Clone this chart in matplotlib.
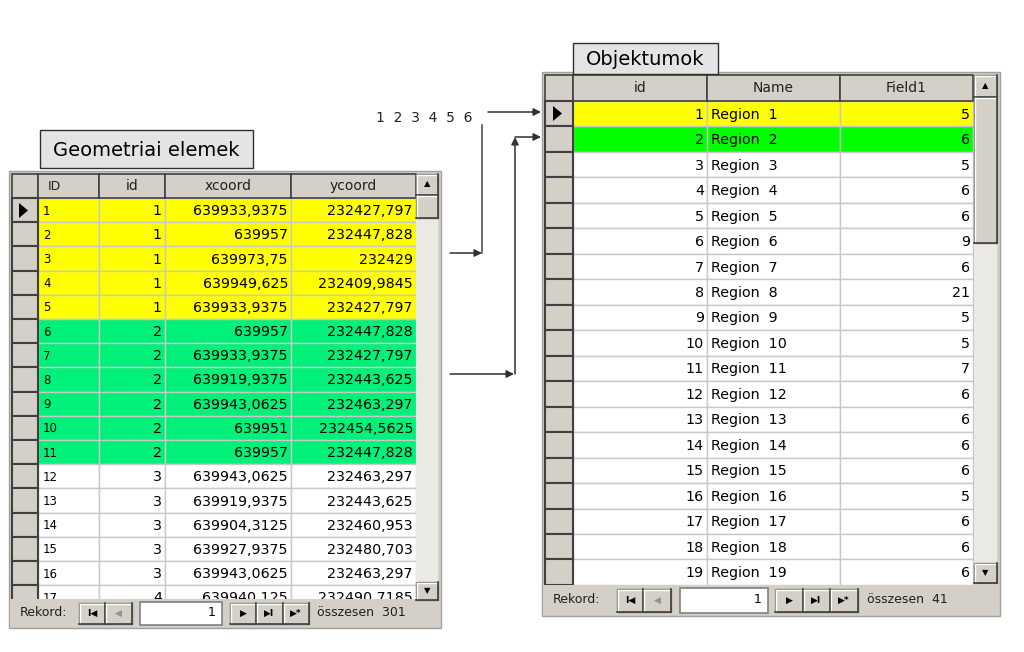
import matplotlib
matplotlib.use("Agg")
import matplotlib.pyplot as plt
from matplotlib.patches import Rectangle, Polygon

# ---- data ----
geo_title = "Geometriai elemek"
geo_headers = ["ID", "id", "xcoord", "ycoord"]
geo_ID = [1, 2, 3, 4, 5, 6, 7, 8, 9, 10, 11, 12, 13, 14, 15, 16, 17]
geo_id = [1, 1, 1, 1, 1, 2, 2, 2, 2, 2, 2, 3, 3, 3, 3, 3, 4]
geo_x = ["639933,9375", "639957", "639973,75", "639949,625", "639933,9375",
         "639957", "639933,9375", "639919,9375", "639943,0625", "639951",
         "639957", "639943,0625", "639919,9375", "639904,3125", "639927,9375",
         "639943,0625", "639940,125"]
geo_y = ["232427,797", "232447,828", "232429", "232409,9845", "232427,797",
         "232447,828", "232427,797", "232443,625", "232463,297", "232454,5625",
         "232447,828", "232463,297", "232443,625", "232460,953", "232480,703",
         "232463,297", "232490,7185"]
geo_total = 301

obj_title = "Objektumok"
obj_headers = ["id", "Name", "Field1"]
obj_id = list(range(1, 20))
obj_name = ["Region  %d" % i for i in obj_id]
obj_field1 = [5, 6, 5, 6, 6, 9, 6, 21, 5, 5, 7, 6, 6, 6, 6, 5, 6, 6, 6]
obj_total = 41

arrow_label = "1  2  3  4  5  6"

GRAY = "#d4d0c8"
DARK = "#404040"
GRID = "#c8c8c8"
YELLOW = "#ffff00"
GREEN_L = "#00f07a"
GREEN_R = "#00ff00"
FONT = "DejaVu Sans"
TXT = 10.3

fig = plt.figure(figsize=(10.24, 6.52), dpi=100)
ax = fig.add_axes([0, 0, 1, 1])
ax.set_xlim(0, 1024)
ax.set_ylim(652, 0)
ax.axis("off")


def rect(x0, y0, x1, y1, fc, ec="none", lw=1.0, z=1):
    ax.add_patch(Rectangle((x0, y0), x1 - x0, y1 - y0, facecolor=fc,
                           edgecolor=ec, linewidth=lw, zorder=z))


def bevel(x0, y0, x1, y1, z=5):
    rect(x0, y0, x1, y1, GRAY, "#808080", 1.0, z)
    ax.plot([x0 + 1, x1 - 1], [y0 + 1, y0 + 1], color="white", lw=1, zorder=z + 0.1)
    ax.plot([x0 + 1, x0 + 1], [y0 + 1, y1 - 1], color="white", lw=1, zorder=z + 0.1)
    ax.plot([x0, x1], [y1, y1], color=DARK, lw=1.2, zorder=z + 0.1)
    ax.plot([x1, x1], [y0, y1], color=DARK, lw=1.2, zorder=z + 0.1)


def scrollbar(x0, x1, y0, y1, thumb_end, down_top, down_bot):
    rect(x0, y0, x1, y1, "#ebe9e4", z=2)
    bevel(x0, y0, x1, y0 + (x1 - x0) - 1)
    ax.text((x0 + x1) / 2, y0 + (x1 - x0) / 2 - 1, "▲", ha="center", va="center",
            fontsize=6, color="black", zorder=7, family=FONT)
    bevel(x0, y0 + (x1 - x0) - 1, x1, thumb_end)
    bevel(x0, down_top, x1, down_bot)
    ax.text((x0 + x1) / 2, (down_top + down_bot) / 2, "▼", ha="center", va="center",
            fontsize=6, color="black", zorder=7, family=FONT)


def footer(x0, x1, y0, y1, x_text, buttons, box, total_x, total):
    rect(x0, y0, x1, y1, GRAY, z=4)
    yc = (y0 + y1) / 2
    ax.text(x_text, yc, "Rekord:", ha="left", va="center", fontsize=9,
            color="#202020", zorder=6, family=FONT)
    glyphs = ["I◀", "◀", "▶", "▶I", "▶*"]
    colors = ["black", "#909090", "black", "black", "black"]
    for (bx0, bx1), g, c in zip(buttons, glyphs, colors):
        bevel(bx0, y0 + 4, bx1, y1 - 3)
        ax.text((bx0 + bx1) / 2, yc + 0.5, g, ha="center", va="center",
                fontsize=6.5, color=c, zorder=7, family=FONT, fontweight="bold")
    rect(box[0], y0 + 3, box[1], y1 - 2, "white", "#808080", 1.2, 5)
    ax.text(box[1] - 6, yc, "1", ha="right", va="center", fontsize=9,
            zorder=7, family=FONT)
    ax.text(total_x, yc, "összesen  %d" % total, ha="left", va="center",
            fontsize=9, color="#202020", zorder=6, family=FONT)


def title_box(x0, y0, x1, y1, label):
    rect(x0, y0, x1, y1, "#e4e4e4", "#303030", 1.0, 3)
    ax.text((x0 + x1) / 2, (y0 + y1) / 2 + 1, label, ha="center", va="center",
            fontsize=14, color="black", zorder=4, family=FONT)


# ---------------- left table ----------------
L_cols = [12, 38, 99, 165, 291, 416]
L_head = (174, 198)
L_rowh = 24.2
L_bottom = 599
rect(9, 171, 441, 628, GRAY, "#a0a0a0", 1.0, 0)

title_box(40, 130, 253, 168, geo_title)

for i in range(len(L_cols) - 1):
    rect(L_cols[i], L_head[0], L_cols[i + 1], L_head[1], GRAY, DARK, 1.2, 2)
header_align = ["left", "center", "center", "center"]
for j, h in enumerate(geo_headers):
    x0, x1 = L_cols[j + 1], L_cols[j + 2]
    if header_align[j] == "left":
        ax.text(x0 + 10, sum(L_head) / 2 + 1, h, ha="left", va="center",
                fontsize=9, color="#202020", zorder=3, family=FONT)
    else:
        ax.text((x0 + x1) / 2, sum(L_head) / 2, h, ha="center", va="center",
                fontsize=10, color="#202020", zorder=3, family=FONT)

for r in range(len(geo_ID)):
    y0 = L_head[1] + r * L_rowh
    y1 = y0 + L_rowh
    if r < 5:
        fc = YELLOW
    elif geo_id[r] == 2:
        fc = GREEN_L
    else:
        fc = "white"
    rect(L_cols[0], y0, L_cols[1], y1, GRAY, DARK, 1.5, 2)
    for i in range(1, len(L_cols) - 1):
        rect(L_cols[i], y0, L_cols[i + 1], y1, fc, GRID, 1.0, 1)
    yc = (y0 + y1) / 2 + 1
    ax.text(L_cols[1] + 5, yc, str(geo_ID[r]), ha="left", va="center",
            fontsize=8.5, zorder=3, family=FONT)
    ax.text(L_cols[3] - 3, yc, str(geo_id[r]), ha="right", va="center",
            fontsize=TXT, zorder=3, family=FONT)
    ax.text(L_cols[4] - 3, yc, geo_x[r], ha="right", va="center",
            fontsize=TXT, zorder=3, family=FONT)
    ax.text(L_cols[5] - 3, yc, geo_y[r], ha="right", va="center",
            fontsize=TXT, zorder=3, family=FONT)
ax.add_patch(Polygon([[19, 203], [19, 218], [28, 210.5]], closed=True,
                     facecolor="black", zorder=4))

scrollbar(416, 438, 174, L_bottom, 218, 582, 600)
footer(10, 440, L_bottom, 627, 20,
       [(79, 105), (105, 132), (230, 256), (256, 283), (283, 309)],
       (140, 222), 317, geo_total)

# ---------------- right table ----------------
R_cols = [545, 573, 707, 840, 973]
R_head = (75, 101)
R_rowh = 25.47
R_bottom = R_head[1] + R_rowh * len(obj_id)
rect(542, 72, 1000, 616, GRAY, "#a0a0a0", 1.0, 0)

title_box(573, 43, 718, 74, obj_title)

for i in range(len(R_cols) - 1):
    rect(R_cols[i], R_head[0], R_cols[i + 1], R_head[1], GRAY, DARK, 1.2, 2)
for j, h in enumerate(obj_headers):
    x0, x1 = R_cols[j + 1], R_cols[j + 2]
    ax.text((x0 + x1) / 2, sum(R_head) / 2, h, ha="center", va="center",
            fontsize=10, color="#202020", zorder=3, family=FONT)

for r in range(len(obj_id)):
    y0 = R_head[1] + r * R_rowh
    y1 = y0 + R_rowh
    fc = YELLOW if r == 0 else (GREEN_R if r == 1 else "white")
    rect(R_cols[0], y0, R_cols[1], y1, GRAY, DARK, 1.5, 2)
    for i in range(1, len(R_cols) - 1):
        rect(R_cols[i], y0, R_cols[i + 1], y1, fc, GRID, 1.0, 1)
    yc = (y0 + y1) / 2 + 1
    ax.text(R_cols[2] - 3, yc, str(obj_id[r]), ha="right", va="center",
            fontsize=TXT, zorder=3, family=FONT)
    ax.text(R_cols[2] + 4, yc, obj_name[r], ha="left", va="center",
            fontsize=TXT, zorder=3, family=FONT)
    ax.text(R_cols[4] - 3, yc, str(obj_field1[r]), ha="right", va="center",
            fontsize=TXT, zorder=3, family=FONT)
ax.add_patch(Polygon([[553, 106], [553, 121], [562, 113.5]], closed=True,
                     facecolor="black", zorder=4))

scrollbar(974, 997, 75, R_bottom, 243, 563, 583)
footer(543, 999, R_bottom, 615, 553,
       [(617, 643), (643, 671), (775, 803), (803, 830), (830, 858)],
       (680, 768), 867, obj_total)

# ---------------- arrows ----------------
ax.text(376, 118, arrow_label, ha="left", va="center", fontsize=10,
        color="#202020", family=FONT)
aprops = dict(arrowstyle="-|>", color="#303030", lw=1.1, mutation_scale=11,
              shrinkA=0, shrinkB=0)
ax.annotate("", xy=(541, 112), xytext=(488, 112), arrowprops=aprops)
ax.plot([482, 482], [125, 253], color="#404040", lw=1.1)
ax.annotate("", xy=(482, 253), xytext=(450, 253), arrowprops=aprops)
ax.annotate("", xy=(514, 374), xytext=(450, 374), arrowprops=aprops)
ax.annotate("", xy=(515, 137), xytext=(515, 374), arrowprops=aprops)
ax.annotate("", xy=(541, 137), xytext=(515, 137), arrowprops=aprops)

fig.savefig("out.png", dpi=100, facecolor="white")
